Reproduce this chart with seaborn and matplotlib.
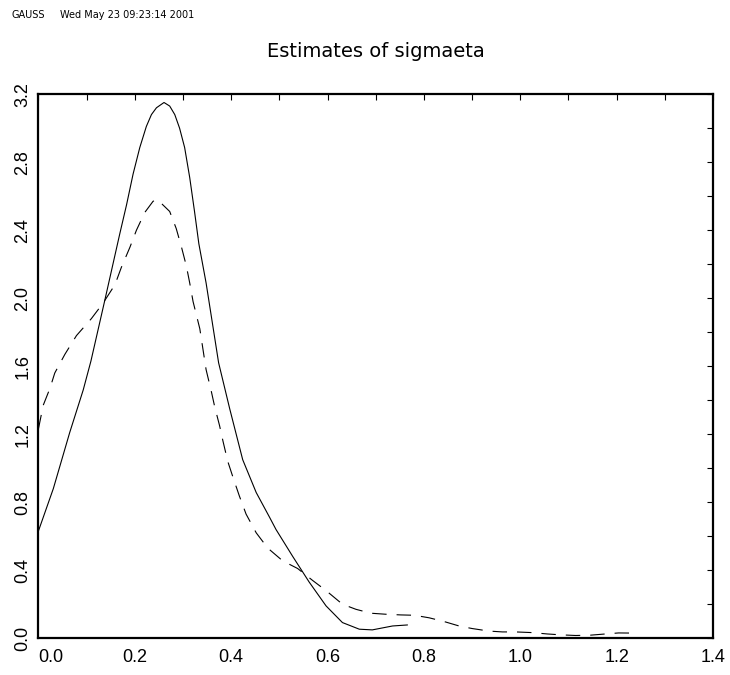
import matplotlib
matplotlib.use('Agg')
import matplotlib.pyplot as plt
import seaborn as sns
from matplotlib.ticker import FixedLocator, FormatStrFormatter

# values
sol_x = [0.0, 0.031, 0.065, 0.093, 0.109, 0.138, 0.169, 0.183, 0.1965, 0.2104,
         0.224, 0.2346, 0.245, 0.2607, 0.2725, 0.283, 0.293, 0.3035, 0.314, 0.324,
         0.333, 0.348, 0.374, 0.397, 0.424, 0.452, 0.48, 0.493, 0.528, 0.562,
         0.597, 0.631, 0.666, 0.693, 0.735, 0.766]
sol_y = [0.63, 0.88, 1.21, 1.46, 1.63, 1.99, 2.38, 2.55, 2.73, 2.886,
         3.01, 3.08, 3.12, 3.151, 3.13, 3.08, 3.00, 2.886, 2.71, 2.51,
         2.32, 2.09, 1.62, 1.35, 1.05, 0.857, 0.71, 0.64, 0.48, 0.33,
         0.19, 0.092, 0.053, 0.049, 0.072, 0.078]

dash_x = [0.0, 0.01, 0.024, 0.034, 0.055, 0.079, 0.110, 0.134, 0.159, 0.172,
          0.190, 0.2035, 0.2207, 0.238, 0.247, 0.2725, 0.286, 0.297, 0.307, 0.314,
          0.321, 0.335, 0.348, 0.359, 0.366, 0.376, 0.383, 0.393, 0.404, 0.417,
          0.431, 0.452, 0.476, 0.507, 0.538, 0.569, 0.597, 0.631, 0.659, 0.69,
          0.721, 0.752, 0.78, 0.811, 0.842, 0.873, 0.90, 0.935, 0.963, 0.99,
          1.025, 1.056, 1.083, 1.115, 1.146, 1.177, 1.204, 1.24]
dash_y = [1.23, 1.37, 1.47, 1.56, 1.67, 1.78, 1.88, 1.97, 2.08, 2.18,
          2.30, 2.40, 2.504, 2.57, 2.58, 2.51, 2.41, 2.30, 2.19, 2.09,
          1.98, 1.82, 1.58, 1.45, 1.36, 1.25, 1.16, 1.04, 0.945, 0.837,
          0.73, 0.62, 0.53, 0.455, 0.41, 0.34, 0.28, 0.20, 0.17, 0.147,
          0.141, 0.137, 0.135, 0.12, 0.098, 0.072, 0.057, 0.042, 0.037, 0.037,
          0.033, 0.025, 0.02, 0.016, 0.018, 0.025, 0.031, 0.03]

x_major = [0.0, 0.2, 0.4, 0.6, 0.8, 1.0, 1.2, 1.4]
x_minor = [0.1, 0.3, 0.5, 0.7, 0.9, 1.1, 1.3]
y_major = [0.0, 0.4, 0.8, 1.2, 1.6, 2.0, 2.4, 2.8, 3.2]
y_minor = [0.2, 0.6, 1.0, 1.4, 1.8, 2.2, 2.6, 3.0]

title = 'Estimates of sigmaeta'
header_left = 'GAUSS'
header_right = 'Wed May 23 09:23:14 2001'

sns.set_style('white')
plt.rcParams['font.family'] = ['Liberation Sans', 'DejaVu Sans']
plt.rcParams['text.color'] = 'black'
plt.rcParams['axes.labelcolor'] = 'black'

fig = plt.figure(figsize=(7.3, 6.75), dpi=100)
ax = fig.add_axes([0.0526, 0.0545, 0.9241, 0.806])

sns.lineplot(x=sol_x, y=sol_y, ax=ax, sort=False, estimator=None,
             color='black', linewidth=0.8)
sns.lineplot(x=dash_x, y=dash_y, ax=ax, sort=False, estimator=None,
             color='black', linewidth=0.8, linestyle=(0, (13, 9)))

ax.set_xlim(0, 1.4)
ax.set_ylim(0, 3.2)
ax.xaxis.set_major_locator(FixedLocator(x_major))
ax.xaxis.set_minor_locator(FixedLocator(x_minor))
ax.yaxis.set_major_locator(FixedLocator(y_major))
ax.yaxis.set_minor_locator(FixedLocator(y_minor))
ax.xaxis.set_major_formatter(FormatStrFormatter('%.1f'))
ax.yaxis.set_major_formatter(FormatStrFormatter('%.1f'))

for s in ax.spines.values():
    s.set_linewidth(1.6)
    s.set_color('black')

ax.tick_params(which='both', direction='in', top=True, right=True,
               length=4.3, width=0.8, color='black')
ax.tick_params(axis='both', labelsize=13, labelcolor='black')
ax.tick_params(axis='x', pad=8)
ax.tick_params(axis='y', pad=5, labelrotation=90)
for t in ax.yaxis.get_major_ticks():
    t.label1.set_va('center')
ax.xaxis.get_major_ticks()[0].label1.set_ha('left')

ax.set_title(title, fontfamily='DejaVu Sans', fontsize=14, pad=27, color='black')

fig.text(12 / 730, 1 - 18.5 / 675, header_left, fontsize=7,
         fontfamily='DejaVu Sans', va='baseline')
fig.text(60 / 730, 1 - 18.5 / 675, header_right, fontsize=7,
         fontfamily='DejaVu Sans', va='baseline')

fig.savefig('out.png', dpi=100)
